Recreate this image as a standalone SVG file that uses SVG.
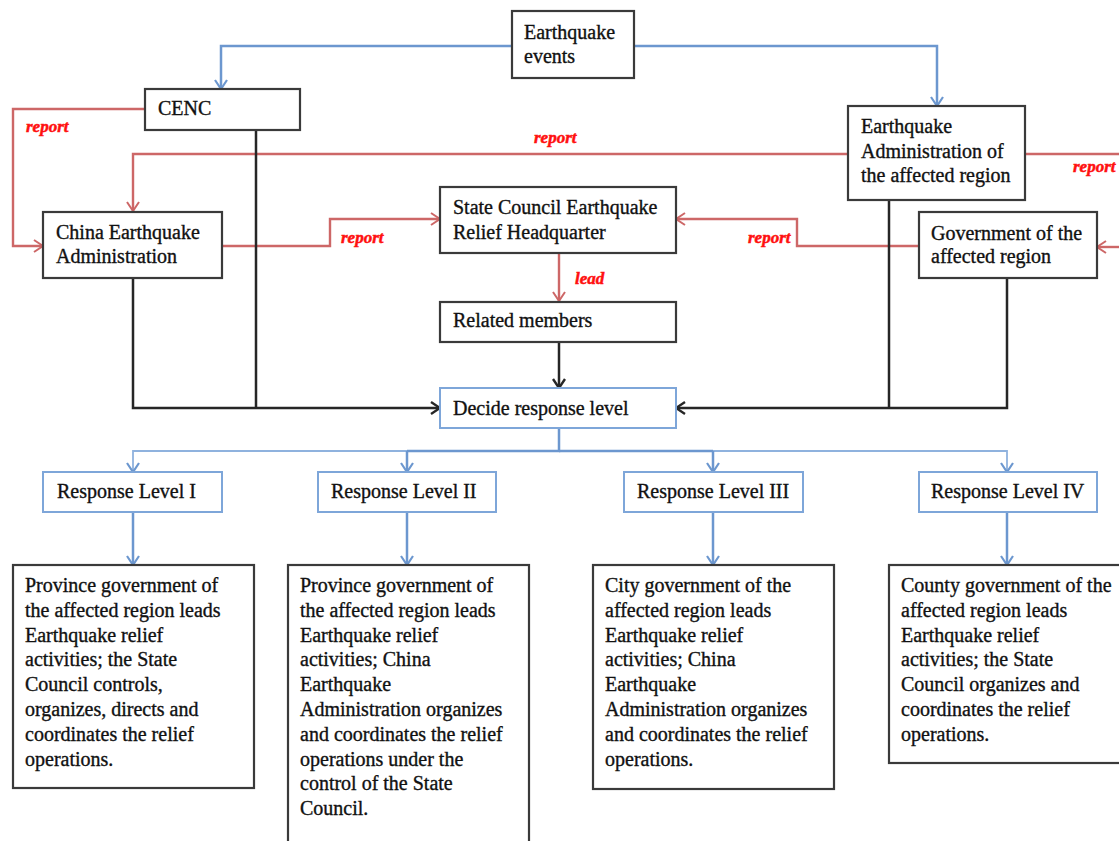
<svg xmlns="http://www.w3.org/2000/svg" width="1119" height="841" viewBox="0 0 1119 841">
<defs>
<style>
.t{font-family:"Liberation Serif","Times New Roman",serif;font-size:20px;fill:#111;stroke:#111;stroke-width:0.35;}
.lbl{font-family:"Liberation Serif","Times New Roman",serif;font-size:17px;font-weight:bold;font-style:italic;fill:#ff1010;stroke:#ff1010;stroke-width:0.5;}
.box{fill:#fff;stroke:#3a3a3a;stroke-width:2.2;}
.bbox{fill:#fff;stroke:#7ea6d9;stroke-width:2;}
.blue{fill:none;stroke:#6c97cf;stroke-width:2.5;}
.bluel{fill:none;stroke:#8fb2de;stroke-width:1.8;}
.red{fill:none;stroke:#cd6767;stroke-width:2.4;}
.blk{fill:none;stroke:#262626;stroke-width:2.5;}
</style>
<marker id="ab" markerUnits="userSpaceOnUse" markerWidth="16" markerHeight="16" viewBox="0 0 16 16" refX="14" refY="8" orient="auto"><path d="M5,2 L14,8 L5,14" fill="none" stroke="#6c97cf" stroke-width="2.2"/></marker>
<marker id="ar" markerUnits="userSpaceOnUse" markerWidth="16" markerHeight="16" viewBox="0 0 16 16" refX="14" refY="8" orient="auto"><path d="M5,2 L14,8 L5,14" fill="none" stroke="#cd6767" stroke-width="2"/></marker>
<marker id="ak" markerUnits="userSpaceOnUse" markerWidth="16" markerHeight="16" viewBox="0 0 16 16" refX="14" refY="8" orient="auto"><path d="M5,2 L14,8 L5,14" fill="none" stroke="#262626" stroke-width="2.4"/></marker>
</defs>
<rect width="1119" height="841" fill="#fff"/>

<g id="connectors">
<path class="blue" d="M512,46 H221 V89" marker-end="url(#ab)"/>
<path class="blue" d="M634,46 H937 V106" marker-end="url(#ab)"/>
<path class="red" d="M145,109 H13 V246 H43" marker-end="url(#ar)"/>
<path class="red" d="M847,154 H133 V211" marker-end="url(#ar)"/>
<path class="red" d="M1025,154 H1119"/>
<path class="red" d="M222,246 H330 V219 H440" marker-end="url(#ar)"/>
<path class="red" d="M919,246 H797 V219 H676" marker-end="url(#ar)"/>
<path class="red" d="M1119,247 H1097" marker-end="url(#ar)"/>
<path class="red" d="M559,253 V301" marker-end="url(#ar)"/>
<path class="blk" d="M256,130 V408"/>
<path class="blk" d="M133,278 V408 H440" marker-end="url(#ak)"/>
<path class="blk" d="M889,200 V408"/>
<path class="blk" d="M1007,278 V408 H676" marker-end="url(#ak)"/>
<path class="blk" d="M559,342 V388" marker-end="url(#ak)"/>
<path class="blue" d="M559,428 V451 H407"/>
<path class="blue" d="M559,451 H713"/>
<path class="bluel" d="M407,451 H133 V472" marker-end="url(#ab)"/>
<path class="bluel" d="M713,451 H1007 V472" marker-end="url(#ab)"/>
<path class="blue" d="M407,451 V472" marker-end="url(#ab)"/>
<path class="blue" d="M713,451 V472" marker-end="url(#ab)"/>
<path class="blue" d="M133,512 V565" marker-end="url(#ab)"/>
<path class="blue" d="M407,512 V565" marker-end="url(#ab)"/>
<path class="blue" d="M713,512 V565" marker-end="url(#ab)"/>
<path class="blue" d="M1007,512 V565" marker-end="url(#ab)"/>
<text class="lbl" x="26" y="132">report</text>
<text class="lbl" x="534" y="143">report</text>
<text class="lbl" x="341" y="243">report</text>
<text class="lbl" x="748" y="243">report</text>
<text class="lbl" x="1073" y="172">report</text>
<text class="lbl" x="575" y="284">lead</text>
</g>

<g id="events">
<rect class="box" x="512" y="11" width="122" height="67"/>
<text class="t" x="524" y="39">Earthquake</text>
<text class="t" x="524" y="63">events</text>
</g>
<g id="cenc">
<rect class="box" x="145" y="89" width="155" height="41"/>
<text class="t" x="158" y="115">CENC</text>
</g>
<g id="cea">
<rect class="box" x="43" y="212" width="179" height="66"/>
<text class="t" x="56" y="239">China Earthquake</text>
<text class="t" x="56" y="263">Administration</text>
</g>
<g id="eaar">
<rect class="box" x="848" y="106" width="177" height="94"/>
<text class="t" x="861" y="133">Earthquake</text>
<text class="t" x="861" y="158">Administration of</text>
<text class="t" x="861" y="182">the affected region</text>
</g>
<g id="scerh">
<rect class="box" x="440" y="187" width="236" height="66"/>
<text class="t" x="453" y="214">State Council Earthquake</text>
<text class="t" x="453" y="239">Relief Headquarter</text>
</g>
<g id="gar">
<rect class="box" x="919" y="212" width="178" height="66"/>
<text class="t" x="931" y="240">Government of the</text>
<text class="t" x="931" y="263">affected region</text>
</g>
<g id="related">
<rect class="box" x="440" y="302" width="236" height="40"/>
<text class="t" x="453" y="327">Related members</text>
</g>
<g id="decide">
<rect class="bbox" x="440" y="388" width="236" height="40"/>
<text class="t" x="453" y="415">Decide response level</text>
</g>
<g id="rl1">
<rect class="bbox" x="43" y="472" width="179" height="40"/>
<text class="t" x="57" y="498">Response Level I</text>
</g>
<g id="rl2">
<rect class="bbox" x="318" y="472" width="178" height="40"/>
<text class="t" x="331" y="498">Response Level II</text>
</g>
<g id="rl3">
<rect class="bbox" x="624" y="472" width="179" height="40"/>
<text class="t" x="637" y="498">Response Level III</text>
</g>
<g id="rl4">
<rect class="bbox" x="919" y="472" width="178" height="40"/>
<text class="t" x="931" y="498">Response Level IV</text>
</g>
<g id="d1">
<rect class="box" x="13" y="565" width="241" height="223"/>
<text class="t" x="25" y="592">
<tspan x="25" dy="0">Province government of</tspan>
<tspan x="25" dy="24.8">the affected region leads</tspan>
<tspan x="25" dy="24.8">Earthquake relief</tspan>
<tspan x="25" dy="24.8">activities; the State</tspan>
<tspan x="25" dy="24.8">Council controls,</tspan>
<tspan x="25" dy="24.8">organizes, directs and</tspan>
<tspan x="25" dy="24.8">coordinates the relief</tspan>
<tspan x="25" dy="24.8">operations.</tspan>
</text>
</g>
<g id="d2">
<rect class="box" x="288" y="565" width="241" height="290"/>
<text class="t" x="300" y="592">
<tspan x="300" dy="0">Province government of</tspan>
<tspan x="300" dy="24.8">the affected region leads</tspan>
<tspan x="300" dy="24.8">Earthquake relief</tspan>
<tspan x="300" dy="24.8">activities; China</tspan>
<tspan x="300" dy="24.8">Earthquake</tspan>
<tspan x="300" dy="24.8">Administration organizes</tspan>
<tspan x="300" dy="24.8">and coordinates the relief</tspan>
<tspan x="300" dy="24.8">operations under the</tspan>
<tspan x="300" dy="24.8">control of the State</tspan>
<tspan x="300" dy="24.8">Council.</tspan>
</text>
</g>
<g id="d3">
<rect class="box" x="593" y="565" width="241" height="224"/>
<text class="t" x="605" y="592">
<tspan x="605" dy="0">City government of the</tspan>
<tspan x="605" dy="24.8">affected region leads</tspan>
<tspan x="605" dy="24.8">Earthquake relief</tspan>
<tspan x="605" dy="24.8">activities; China</tspan>
<tspan x="605" dy="24.8">Earthquake</tspan>
<tspan x="605" dy="24.8">Administration organizes</tspan>
<tspan x="605" dy="24.8">and coordinates the relief</tspan>
<tspan x="605" dy="24.8">operations.</tspan>
</text>
</g>
<g id="d4">
<rect class="box" x="889" y="565" width="245" height="198"/>
<text class="t" x="901" y="592">
<tspan x="901" dy="0">County government of the</tspan>
<tspan x="901" dy="24.8">affected region leads</tspan>
<tspan x="901" dy="24.8">Earthquake relief</tspan>
<tspan x="901" dy="24.8">activities; the State</tspan>
<tspan x="901" dy="24.8">Council organizes and</tspan>
<tspan x="901" dy="24.8">coordinates the relief</tspan>
<tspan x="901" dy="24.8">operations.</tspan>
</text>
</g>
</svg>
